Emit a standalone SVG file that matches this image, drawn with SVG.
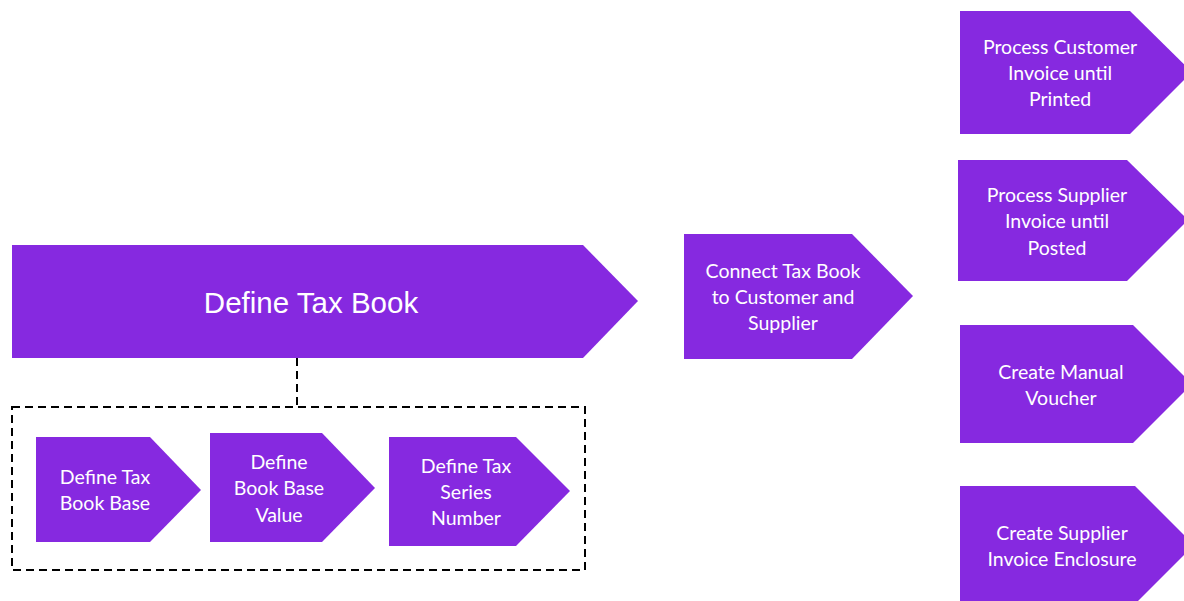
<svg xmlns="http://www.w3.org/2000/svg" width="1184" height="601" viewBox="0 0 1184 601">
<style>
.n{fill:#8629E0;}
.t{fill:#fff;font-family:Lato,"Open Sans",sans-serif;font-size:19.5px;text-anchor:middle;}
.big{fill:#fff;font-family:"Liberation Sans",Arial,sans-serif;font-size:29.5px;text-anchor:middle;}
.d{fill:none;stroke:#000;stroke-width:2;stroke-dasharray:8,5;}
</style>
<rect width="1184" height="601" fill="#fff"/>
<g id="connectors">
<path class="d" d="M297,358 V407"/>
<rect class="d" x="12" y="407" width="573" height="163"/>
</g>
<g id="define-tax-book">
<polygon class="n" points="12,245 583,245 638,301 583,358 12,358"/>
<text class="big" x="311" y="313">Define Tax Book</text>
</g>
<g id="define-tax-book-base">
<polygon class="n" points="36,437 150,437 201,490 150,542 36,542"/>
<text class="t" x="105" y="484">Define Tax</text>
<text class="t" x="105" y="510">Book Base</text>
</g>
<g id="define-book-base-value">
<polygon class="n" points="210,433 322,433 375,488 322,542 210,542"/>
<text class="t" x="279" y="469">Define</text>
<text class="t" x="279" y="495">Book Base</text>
<text class="t" x="279" y="522">Value</text>
</g>
<g id="define-tax-series-number">
<polygon class="n" points="389,437 516,437 570,491 516,546 389,546"/>
<text class="t" x="466" y="473">Define Tax</text>
<text class="t" x="466" y="499">Series</text>
<text class="t" x="466" y="525">Number</text>
</g>
<g id="connect-tax-book">
<polygon class="n" points="684,234 852,234 913,296 852,359 684,359"/>
<text class="t" x="783" y="278">Connect Tax Book</text>
<text class="t" x="783" y="304">to Customer and</text>
<text class="t" x="783" y="330">Supplier</text>
</g>
<g id="process-customer-invoice">
<polygon class="n" points="960,11 1130,11 1192,72 1130,134 960,134"/>
<text class="t" x="1060" y="54">Process Customer</text>
<text class="t" x="1060" y="80">Invoice until</text>
<text class="t" x="1060" y="106">Printed</text>
</g>
<g id="process-supplier-invoice">
<polygon class="n" points="958,160 1127,160 1188,220 1127,281 958,281"/>
<text class="t" x="1057" y="202">Process Supplier</text>
<text class="t" x="1057" y="228">Invoice until</text>
<text class="t" x="1057" y="255">Posted</text>
</g>
<g id="create-manual-voucher">
<polygon class="n" points="960,325 1133,325 1192,384 1133,443 960,443"/>
<text class="t" x="1061" y="379">Create Manual</text>
<text class="t" x="1061" y="405">Voucher</text>
</g>
<g id="create-supplier-invoice-enclosure">
<polygon class="n" points="960,486 1135,486 1194,545 1135,604 960,604"/>
<text class="t" x="1062" y="540">Create Supplier</text>
<text class="t" x="1062" y="566">Invoice Enclosure</text>
</g>
</svg>
